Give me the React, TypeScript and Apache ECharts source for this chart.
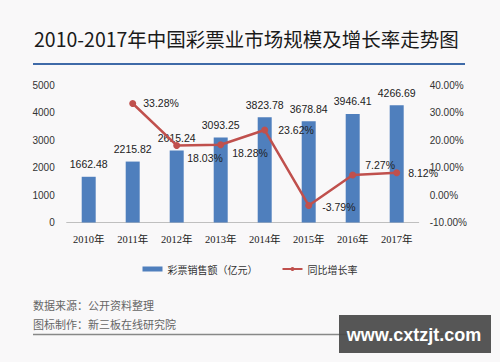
import React, { useEffect, useRef } from "react";
import * as echarts from "echarts";

const years = ["2010年", "2011年", "2012年", "2013年", "2014年", "2015年", "2016年", "2017年"];
const sales = [1662.48, 2215.82, 2615.24, 3093.25, 3823.78, 3678.84, 3946.41, 4266.69];
const growth: (number | null)[] = [null, 33.28, 18.03, 18.28, 23.62, -3.79, 7.27, 8.12];
const growthLabelOffsets: [number, number][] = [
  [0, 0], [2, 0], [2, 13], [3, 8], [5, 0], [5, 2], [4, -10], [3, 0],
];

const TITLE = "2010-2017年中国彩票业市场规模及增长率走势图";
const SOURCE1 = "数据来源：公开资料整理";
const SOURCE2 = "图标制作：新三板在线研究院";
const BAR_NAME = "彩票销售额（亿元）";
const LINE_NAME = "同比增长率";

export default function App() {
  const ref = useRef<HTMLDivElement>(null);
  useEffect(() => {
    if (!ref.current) return;
    document.body.style.margin = "0";
    const chart = echarts.init(ref.current, null, { renderer: "svg" });
    const numFont = "Liberation Sans, Arial, sans-serif";
    chart.setOption({
      animation: false,
      backgroundColor: "#f9f8f9",
      grid: { left: 66.7, right: 81.3, top: 85, bottom: 139.5, containLabel: false },
      legend: {
        data: [
          { name: BAR_NAME, icon: "rect" },
          { name: LINE_NAME },
        ],
        left: "center",
        top: 259,
        itemWidth: 20,
        itemHeight: 5,
        itemGap: 24,
        textStyle: { fontSize: 10, color: "#333", fontFamily: "Noto Sans CJK SC" },
      },
      xAxis: {
        type: "category",
        data: years,
        axisLine: { lineStyle: { color: "#bfbfbf", width: 1 } },
        axisTick: { show: false },
        axisLabel: {
          color: "#222",
          fontSize: 10.5,
          margin: 12,
          fontFamily: "Liberation Serif, Noto Sans CJK SC, serif",
        },
      },
      yAxis: [
        {
          type: "value",
          min: 0,
          max: 5000,
          interval: 1000,
          splitLine: { show: false },
          axisLine: { show: false },
          axisTick: { show: false },
          axisLabel: {
            color: "#333",
            fontSize: 10,
            margin: 12,
            fontFamily: numFont,
            formatter: (v: number) => String(v),
          },
        },
        {
          type: "value",
          min: -10,
          max: 40,
          interval: 10,
          splitLine: { show: false },
          axisLine: { show: false },
          axisTick: { show: false },
          axisLabel: {
            color: "#333",
            fontSize: 10,
            margin: 11,
            fontFamily: numFont,
            formatter: (v: number) => v.toFixed(2) + "%",
          },
        },
      ],
      series: [
        {
          name: BAR_NAME,
          type: "bar",
          data: sales,
          barWidth: 14,
          itemStyle: { color: "#4f7fbd" },
          label: {
            show: true,
            position: "top",
            distance: 7,
            color: "#222",
            fontSize: 10.5,
            fontFamily: numFont,
            formatter: (p: any) => p.value.toFixed(2),
          },
        },
        {
          name: LINE_NAME,
          type: "line",
          yAxisIndex: 1,
          data: growth.map((v, i) =>
            v === null
              ? "-"
              : { value: v, label: { offset: growthLabelOffsets[i] } }
          ),
          symbol: "circle",
          symbolSize: 7,
          lineStyle: { color: "#c0504d", width: 2.5 },
          itemStyle: { color: "#c0504d" },
          label: {
            show: true,
            position: "right",
            color: "#222",
            fontSize: 10.5,
            fontFamily: numFont,
            formatter: (p: any) => p.value.toFixed(2) + "%",
          },
        },
      ],
      graphic: [
        {
          type: "text",
          x: 34,
          y: 38,
          style: {
            text: TITLE,
            fontSize: 19.5,
            fill: "#1a1a1a",
            verticalAlign: "middle",
            fontFamily: "Noto Sans CJK SC",
          },
        },
        {
          type: "line",
          shape: { x1: 33, y1: 64, x2: 465, y2: 64 },
          style: { stroke: "#3f6aa8", lineWidth: 2 },
        },
        {
          type: "text",
          x: 33,
          y: 305,
          style: { text: SOURCE1, fontSize: 11, fill: "#666", verticalAlign: "middle", fontFamily: "Noto Sans CJK SC" },
        },
        {
          type: "text",
          x: 33,
          y: 324,
          style: { text: SOURCE2, fontSize: 11, fill: "#666", verticalAlign: "middle", fontFamily: "Noto Sans CJK SC" },
        },
        {
          type: "line",
          shape: { x1: 33, y1: 334.5, x2: 465, y2: 334.5 },
          style: { stroke: "#888", lineWidth: 1.5 },
        },
        {
          type: "rect",
          shape: { x: 339, y: 315, width: 152, height: 38 },
          style: { fill: "rgba(72,72,72,0.92)" },
        },
        {
          type: "text",
          x: 414,
          y: 335,
          style: {
            text: "www.cxtzjt.com",
            fontSize: 18,
            fontWeight: "bold",
            fill: "#fff",
            align: "center",
            verticalAlign: "middle",
            fontFamily: "Liberation Sans, Arial, sans-serif",
          },
        },
      ],
    });
    return () => chart.dispose();
  }, []);
  return <div ref={ref} style={{ width: 500, height: 362 }} />;
}
